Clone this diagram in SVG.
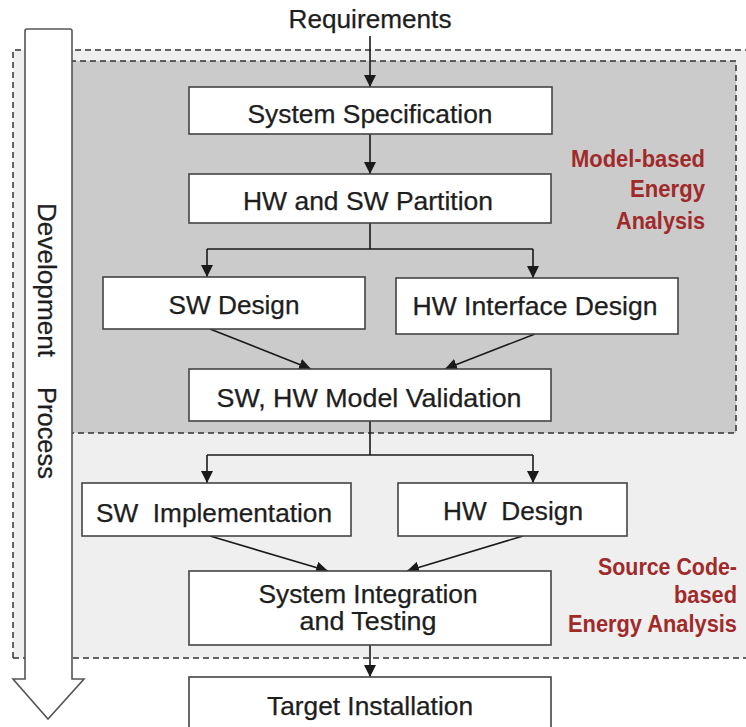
<svg xmlns="http://www.w3.org/2000/svg" width="746" height="727" viewBox="0 0 746 727">
<defs>
<marker id="ah" viewBox="0 0 10 10" refX="10" refY="5" markerWidth="12" markerHeight="12" markerUnits="userSpaceOnUse" orient="auto">
<path d="M0,0 L10,5 L0,10 z" fill="#1a1a1a"/>
</marker>
<style>
.box{fill:#ffffff;stroke:#444444;stroke-width:1.6}
.t{font-family:"Liberation Sans",Arial,sans-serif;font-size:25px;fill:#1e1e1e;stroke:#1e1e1e;stroke-width:0.25}
.r{font-family:"Liberation Sans",Arial,sans-serif;font-size:23px;font-weight:bold;fill:#a02a2a}
.c{fill:none;stroke:#1a1a1a;stroke-width:1.6}
.ca{fill:none;stroke:#1a1a1a;stroke-width:1.6;marker-end:url(#ah)}
.dash{fill:none;stroke:#333333;stroke-width:1.5;stroke-dasharray:6,4}
</style>
</defs>
<rect width="746" height="727" fill="#ffffff"/>
<g id="region-source">
<rect x="13" y="50" width="760" height="608" fill="#efefef"/>
<path class="dash" d="M13,658 V50 H746"/>
<path class="dash" d="M13,658 H746"/>
</g>
<g id="region-model">
<rect x="60" y="61" width="676" height="372" fill="#cbcbcb"/>
<path class="dash" d="M60,61 H736 V433 H60"/>
</g>
<g id="dev-arrow">
<path d="M27,29 H70 Q72,29 72,31 V679 H84 L48,719 L13,679 H25 V31 Q25,29 27,29 Z" fill="#ffffff" stroke="#555555" stroke-width="1.6"/>
<text class="t" transform="translate(38,203) rotate(90)" textLength="154" lengthAdjust="spacingAndGlyphs">Development</text>
<text class="t" transform="translate(38,387) rotate(90)" textLength="92" lengthAdjust="spacingAndGlyphs">Process</text>
</g>
<g id="connectors">
<line class="ca" x1="370" y1="36" x2="370" y2="87"/>
<line class="ca" x1="370" y1="134" x2="370" y2="174"/>
<line class="c" x1="370" y1="223" x2="370" y2="249"/>
<polyline class="ca" points="207,249 207,277"/>
<polyline class="c" points="207,249 533,249"/>
<polyline class="ca" points="533,249 533,278"/>
<line class="ca" x1="210" y1="329" x2="311" y2="369"/>
<line class="ca" x1="535" y1="334" x2="445" y2="369"/>
<line class="c" x1="370" y1="421" x2="370" y2="455"/>
<polyline class="c" points="207,455 533,455"/>
<polyline class="ca" points="207,455 207,483"/>
<polyline class="ca" points="533,455 533,483"/>
<line class="ca" x1="210" y1="536" x2="328" y2="571"/>
<line class="ca" x1="523" y1="536" x2="407" y2="571"/>
<line class="ca" x1="370" y1="645" x2="370" y2="677"/>
</g>
<g id="requirements">
<text class="t" x="370" y="28" text-anchor="middle" textLength="163" lengthAdjust="spacingAndGlyphs">Requirements</text>
</g>
<g id="system-specification">
<rect class="box" x="189" y="87" width="363" height="47"/>
<text class="t" x="370" y="123" text-anchor="middle" textLength="245" lengthAdjust="spacingAndGlyphs">System Specification</text>
</g>
<g id="hw-sw-partition">
<rect class="box" x="189" y="174" width="362" height="49"/>
<text class="t" x="368" y="210" text-anchor="middle" textLength="250" lengthAdjust="spacingAndGlyphs">HW and SW Partition</text>
</g>
<g id="sw-design">
<rect class="box" x="103" y="277" width="262" height="52"/>
<text class="t" x="234" y="314" text-anchor="middle" textLength="131" lengthAdjust="spacingAndGlyphs">SW Design</text>
</g>
<g id="hw-interface-design">
<rect class="box" x="396" y="278" width="282" height="56"/>
<text class="t" x="535" y="315" text-anchor="middle" textLength="245" lengthAdjust="spacingAndGlyphs">HW Interface Design</text>
</g>
<g id="model-validation">
<rect class="box" x="189" y="369" width="362" height="52"/>
<text class="t" x="369" y="407" text-anchor="middle" textLength="305" lengthAdjust="spacingAndGlyphs">SW, HW Model Validation</text>
</g>
<g id="sw-implementation">
<rect class="box" x="82" y="483" width="269" height="53"/>
<text class="t" x="214" y="522" text-anchor="middle" textLength="236" lengthAdjust="spacingAndGlyphs" xml:space="preserve">SW  Implementation</text>
</g>
<g id="hw-design">
<rect class="box" x="398" y="483" width="229" height="53"/>
<text class="t" x="513" y="520" text-anchor="middle" textLength="140" lengthAdjust="spacingAndGlyphs" xml:space="preserve">HW  Design</text>
</g>
<g id="system-integration">
<rect class="box" x="189" y="571" width="362" height="74"/>
<text class="t" x="368" y="603" text-anchor="middle" textLength="219" lengthAdjust="spacingAndGlyphs">System Integration</text>
<text class="t" x="368" y="630" text-anchor="middle" textLength="137" lengthAdjust="spacingAndGlyphs">and Testing</text>
</g>
<g id="target-installation">
<rect class="box" x="189" y="677" width="362" height="60"/>
<text class="t" x="370" y="715" text-anchor="middle" textLength="206" lengthAdjust="spacingAndGlyphs">Target Installation</text>
</g>
<g id="label-model-based">
<text class="r" x="705" y="167" text-anchor="end" textLength="134" lengthAdjust="spacingAndGlyphs">Model-based</text>
<text class="r" x="705" y="197" text-anchor="end" textLength="75" lengthAdjust="spacingAndGlyphs">Energy</text>
<text class="r" x="705" y="229" text-anchor="end" textLength="89" lengthAdjust="spacingAndGlyphs">Analysis</text>
</g>
<g id="label-source-code">
<text class="r" x="737" y="575" text-anchor="end" textLength="139" lengthAdjust="spacingAndGlyphs">Source Code-</text>
<text class="r" x="737" y="603" text-anchor="end" textLength="63" lengthAdjust="spacingAndGlyphs">based</text>
<text class="r" x="737" y="632" text-anchor="end" textLength="169" lengthAdjust="spacingAndGlyphs">Energy Analysis</text>
</g>
</svg>
